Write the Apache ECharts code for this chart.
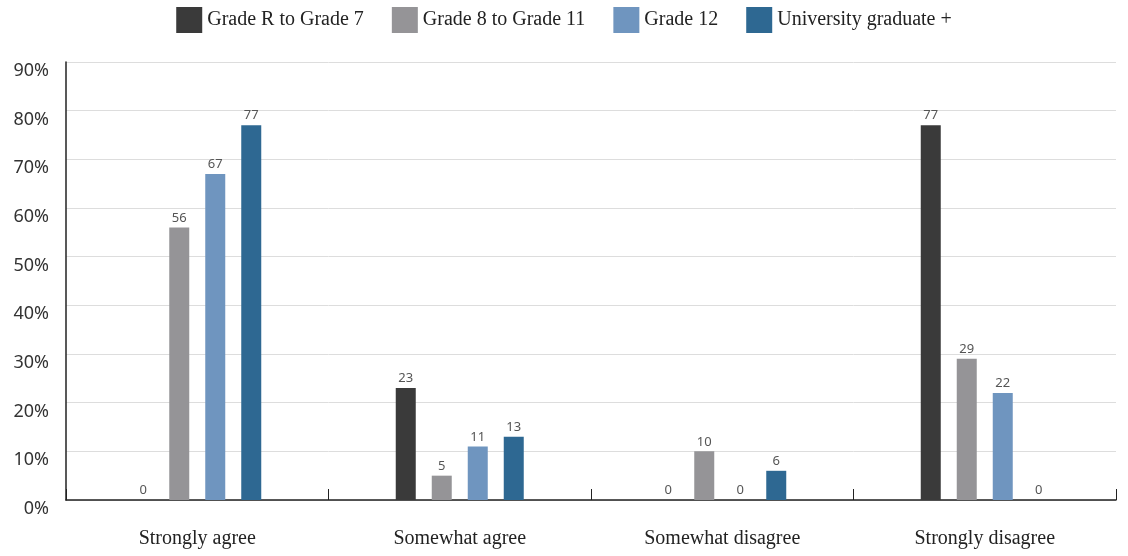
<!DOCTYPE html>
<html><head><meta charset="utf-8">
<script src="https://cdn.jsdelivr.net/npm/echarts@6/dist/echarts.min.js"></script>
<style>html,body{margin:0;padding:0;background:#fff}#c{width:1128px;height:556px}</style>
</head><body><div id="c"></div>
<script>
const categories = ["Strongly agree", "Somewhat agree", "Somewhat disagree", "Strongly disagree"];
const seriesNames = ["Grade R to Grade 7", "Grade 8 to Grade 11", "Grade 12", "University graduate +"];
const gradeR7 = [0, 23, 0, 77];
const grade8to11 = [56, 5, 10, 29];
const grade12 = [67, 11, 0, 22];
const university = [77, 13, 6, 0];
const colors = ["#3a3a3a", "#959497", "#6f95bf", "#2e6892"];
const yTicks = [0, 10, 20, 30, 40, 50, 60, 70, 80, 90];

const values = [gradeR7, grade8to11, grade12, university];
const chart = echarts.init(document.getElementById('c'));
chart.setOption({
  animation: false,
  color: colors,
  legend: {
    top: 2, left: 'center',
    itemWidth: 26, itemHeight: 26, itemGap: 28,
    icon: 'rect',
    textStyle: { fontFamily: 'Liberation Serif', fontSize: 20, color: '#222' },
    data: seriesNames
  },
  grid: { left: 66, right: 12, top: 62, bottom: 56, containLabel: false },
  xAxis: {
    type: 'category', data: categories,
    axisLine: { lineStyle: { color: '#222', width: 1.5 } },
    axisTick: { show: true, inside: true, length: 11, alignWithLabel: false, lineStyle: { color: '#222' } },
    axisLabel: { margin: 29, fontFamily: 'Liberation Serif', fontSize: 20, color: '#222' }
  },
  yAxis: {
    type: 'value', min: yTicks[0], max: yTicks[yTicks.length - 1], interval: 10,
    axisLine: { show: true, lineStyle: { color: '#222', width: 1.5 } },
    splitLine: { lineStyle: { color: '#dddddd' } },
    axisLabel: { formatter: '{value}%', fontFamily: 'Noto Sans', fontSize: 18, color: '#333', margin: 17, verticalAlign: 'top' }
  },
  series: seriesNames.map((n, i) => ({
    name: n, type: 'bar', data: values[i],
    barWidth: 20, barGap: '80%',
    label: { show: true, position: 'top', distance: 3, fontFamily: 'Noto Sans', fontSize: 13, color: '#555' }
  }))
});
</script></body></html>
